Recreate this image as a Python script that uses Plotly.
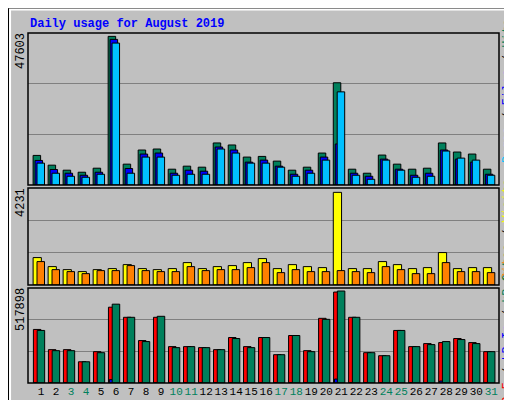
import plotly.graph_objects as go

days = list(range(1, 32))
weekend = [3, 4, 10, 11, 17, 18, 24, 25, 31]
hits = [9478, 6354, 4739, 4093, 5385, 47603, 6677, 11201, 11524, 5062, 6031, 5708, 13463, 12816, 8939, 9155, 7647, 4739, 5708, 10232, 32741, 5062, 3770, 9585, 6677, 5062, 5385, 13463, 10555, 9908, 5062]
files = [7862, 4954, 3770, 3123, 4093, 46634, 5277, 9908, 10232, 3770, 4739, 4416, 12170, 11201, 7324, 7970, 6031, 3446, 4739, 8939, 13139, 3770, 2800, 8293, 5062, 3123, 3770, 11201, 8293, 7324, 3446]
pages = [7001, 3770, 2800, 2477, 3446, 45449, 3770, 8939, 8939, 3123, 3446, 3446, 11524, 10232, 7001, 7001, 5708, 2800, 3770, 7970, 29833, 3123, 1831, 7970, 4739, 2477, 2800, 10878, 8616, 7970, 3123]
visits = [1252, 840, 702, 611, 702, 748, 931, 748, 702, 748, 1023, 748, 840, 886, 1023, 1206, 748, 931, 840, 794, 4231, 748, 748, 1069, 931, 748, 794, 1481, 748, 794, 794]
sites = [1069, 702, 611, 519, 657, 657, 886, 657, 611, 611, 840, 657, 702, 702, 794, 1023, 565, 702, 611, 611, 657, 611, 565, 840, 702, 519, 519, 1023, 611, 611, 565]
kb_f = [301623, 187803, 187803, 119511, 176421, 426825, 369915, 239022, 369915, 204876, 204876, 199185, 187803, 256095, 204876, 256095, 159348, 267477, 182112, 364224, 512190, 369915, 170730, 153657, 295932, 204876, 221949, 227640, 250404, 227640, 176421]
kb_in = [2500, 2500, 2500, 2500, 2500, 19000, 2500, 2500, 2500, 2500, 2500, 2500, 2500, 2500, 2500, 2500, 2500, 2500, 2500, 2500, 22000, 2500, 2500, 2500, 2500, 2500, 2500, 11000, 2500, 2500, 2500]
kb_out = [295932, 182112, 182112, 119511, 170730, 443898, 369915, 233331, 375606, 199185, 204876, 199185, 187803, 250404, 199185, 256095, 159348, 267477, 176421, 358533, 517898, 369915, 170730, 153657, 295932, 204876, 216258, 233331, 244713, 221949, 176421]

GREEN = "#00805C"
fig = go.Figure()
line = dict(color="black", width=1)

def bar(y, color, off, w, ax):
    fig.add_trace(go.Bar(x=days, y=y, marker=dict(color=color, line=line),
                         offset=off, width=w, xaxis="x" + ax, yaxis="y" + ax,
                         showlegend=False, hoverinfo="skip"))

bar(hits, GREEN, -0.53, 0.5, "")
bar(files, "#0000FF", -0.4, 0.5, "")
bar(pages, "#00C0FF", -0.27, 0.5, "")
bar(visits, "#FFFF00", -0.53, 0.55, "2")
bar(sites, "#FF8000", -0.27, 0.5, "2")
bar(kb_f, "#FF0000", -0.51, 0.5, "3")
bar(kb_in, "#0000FF", -0.45, 0.3, "3")
bar(kb_out, GREEN, -0.26, 0.5, "3")

R1 = max(hits) * 452 / 442
R2 = max(visits) * 290 / 277
R3 = max(kb_out) * 282 / 273
xr = [0.13, 31.51]
XD = [20 / 512, 491 / 512]
def yax(R, dom):
    return dict(range=[0, R], domain=dom, tickvals=[R / 3, 2 * R / 3], showticklabels=False,
                showgrid=True, gridcolor="#808080", gridwidth=1, zeroline=False,
                ticks="", fixedrange=True)

ticktext = [f'<span style="color:{GREEN}">{d}</span>' if d in weekend else str(d) for d in days]
fig.update_layout(
    width=512, height=400, margin=dict(l=0, r=0, t=0, b=0),
    paper_bgcolor="#C0C0C0", plot_bgcolor="#C0C0C0", barmode="overlay",
    font=dict(family="Liberation Mono, DejaVu Sans Mono, monospace", size=12, color="black"),
    xaxis=dict(range=xr, domain=XD, anchor="y", showticklabels=False, showgrid=False, zeroline=False, fixedrange=True),
    xaxis2=dict(range=xr, domain=XD, anchor="y2", showticklabels=False, showgrid=False, zeroline=False, fixedrange=True),
    xaxis3=dict(range=xr, domain=XD, anchor="y3", tickvals=days, ticktext=ticktext, showgrid=False,
                zeroline=False, tickangle=0, ticks="", tickfont=dict(size=11), fixedrange=True),
    yaxis=yax(R1, [1 - 177 / 400, 1 - 25 / 400]),
    yaxis2=yax(R2, [1 - 277 / 400, 1 - 180 / 400]),
    yaxis3=yax(R3, [1 - 375 / 400, 1 - 280 / 400]),
)

shapes = []
for y0, y1 in [(25, 177), (180, 277), (280, 375)]:
    shapes.append(dict(type="rect", xref="paper", yref="paper", x0=XD[0], x1=XD[1],
                       y0=1 - y1 / 400, y1=1 - y0 / 400, line=dict(color="black", width=1.5)))
shapes.append(dict(type="rect", xref="paper", yref="paper", x0=0.001, x1=0.999, y0=0.001, y1=0.999,
                   line=dict(color="black", width=1)))
shapes.append(dict(type="rect", xref="paper", yref="paper", x0=0.004, x1=0.988, y0=0.015, y1=0.996,
                   line=dict(color="white", width=2)))
shapes.append(dict(type="rect", xref="paper", yref="paper", x0=0.988, x1=0.998, y0=0.002, y1=0.99,
                   fillcolor="#808080", line=dict(width=0)))
shapes.append(dict(type="rect", xref="paper", yref="paper", x0=0.004, x1=0.998, y0=0.002, y1=0.013,
                   fillcolor="#808080", line=dict(width=0)))
fig.update_layout(shapes=shapes)

ann = [
    dict(x=20 / 512, y=1 - 16 / 400, text="<b>Daily usage for August 2019</b>", font=dict(color="#0000FF", size=12),
         xanchor="left", yanchor="middle"),
    dict(x=13 / 512, y=1 - 43 / 400, text="47603", textangle=-90, xanchor="center", yanchor="middle"),
    dict(x=13 / 512, y=1 - 195 / 400, text="4231", textangle=-90, xanchor="center", yanchor="middle"),
    dict(x=13 / 512, y=1 - 302 / 400, text="517898", textangle=-90, xanchor="center", yanchor="middle"),
    dict(x=500 / 512, y=1 - 83 / 400, textangle=-90, xanchor="center", yanchor="middle",
         text=f'<span style="color:#00C0FF">Pages</span> / <span style="color:#0000FF">Files</span> / <span style="color:{GREEN}">Hits</span>'),
    dict(x=500 / 512, y=1 - 222 / 400, textangle=-90, xanchor="center", yanchor="middle",
         text='<span style="color:#FF8000">Sites</span> / <span style="color:#FFFF00">Visits</span>'),
    dict(x=500 / 512, y=1 - 328 / 400, textangle=-90, xanchor="center", yanchor="middle",
         text=f'<span style="color:#FF0000">kB F</span> / <span style="color:#0000FF">kB In</span> / <span style="color:{GREEN}">kB Out</span>'),
]
for a in ann:
    a.update(xref="paper", yref="paper", showarrow=False)
fig.update_layout(annotations=ann)

fig.write_html("out.html")
